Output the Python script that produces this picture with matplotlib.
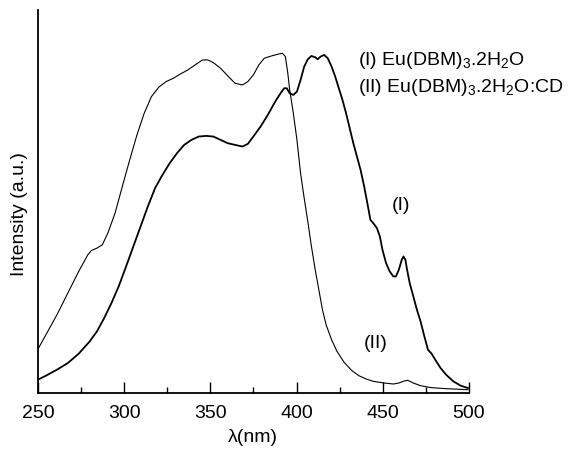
import matplotlib
matplotlib.use("Agg")
import matplotlib.pyplot as plt

plt.rcParams['font.family'] = ['Liberation Sans', 'DejaVu Sans']
plt.rcParams['mathtext.fontset'] = 'custom'
plt.rcParams['mathtext.rm'] = 'Liberation Sans'
plt.rcParams['mathtext.default'] = 'regular'

# Curve (II): Eu(DBM)3.2H2O:CD  (thin line)
wl_cd = [250, 254.6, 261.0, 267.3, 273.6, 278.9, 281.0, 284.2, 287.3, 290.5,
         294.7, 298.9, 303.2, 307.4, 311.6, 315.8, 320.0, 324.3, 328.5, 332.7,
         336.9, 341.1, 345.4, 348.5, 351.7, 355.9, 360.1, 364.3, 368.6, 371.7,
         374.9, 378.1, 381.2, 385.4, 389.7, 391.8, 393.5, 394.9, 396.0, 398.1,
         400.2, 402.3, 404.4, 406.5, 408.6, 410.8, 412.9, 415.0, 417.1, 420.3,
         423.4, 427.6, 431.9, 436.1, 440.3, 444.5, 450.8, 456.1, 459.3, 462.4,
         464.6, 467.7, 471.9, 478.3, 486.7, 499.4]
int_cd = [132, 175, 235, 300, 365, 415, 428, 435, 445, 480,
          540, 620, 700, 775, 840, 890, 918, 935, 945, 958,
          970, 985, 1000, 1000, 992, 975, 952, 930, 925, 935,
          955, 985, 1005, 1012, 1018, 1020, 1010, 960, 910, 840,
          760, 660, 585, 515, 440, 370, 310, 250, 205, 160,
          125, 92, 68, 52, 42, 35, 30, 27, 30, 36,
          38, 30, 22, 16, 13, 10]

# Curve (I): Eu(DBM)3.2H2O  (thicker line)
wl_pure = [250, 254.6, 261.0, 267.3, 273.6, 280.0, 284.2, 288.4, 292.6, 296.8,
           301.1, 305.3, 309.5, 313.7, 317.9, 322.2, 326.4, 330.6, 334.8, 339.0,
           343.2, 347.5, 351.7, 355.9, 360.1, 364.3, 368.6, 371.7, 374.9, 379.1,
           383.3, 387.6, 390.7, 392.8, 394.3, 396.0, 398.1, 400.2, 402.3, 404.4,
           406.5, 408.6, 410.8, 412.2, 413.9, 416.0, 418.1, 420.3, 422.4, 424.5,
           426.6, 428.7, 430.8, 432.9, 435.0, 437.1, 439.2, 441.4, 442.8, 444.5,
           446.6, 448.3, 449.8, 451.9, 454.0, 456.1, 457.6, 459.3, 461.0, 462.0,
           463.1, 464.1, 465.6, 467.7, 469.8, 471.9, 474.1, 476.2, 478.3, 480.4,
           483.5, 486.7, 490.9, 495.1, 499.4]
int_pure = [40, 52, 70, 90, 118, 155, 185, 225, 270, 320,
            380, 440, 500, 560, 615, 655, 690, 720, 745, 760,
            770, 772, 770, 760, 750, 745, 740, 748, 770, 800,
            835, 875, 900, 915, 915, 900, 895, 905, 940, 980,
            1002, 1012, 1008, 1002, 1010, 1015, 1005, 980, 950, 915,
            880, 840, 795, 750, 710, 670, 620, 560, 520, 510,
            495, 470, 430, 390, 365, 350, 350, 370, 400, 410,
            400, 370, 330, 290, 250, 215, 170, 130, 118, 100,
            75, 55, 35, 22, 15]

xticks = [250, 300, 350, 400, 450, 500]
minor_xticks = [275, 325, 375, 425, 475]

fig = plt.figure(figsize=(5.69, 4.49), dpi=100)
ax = fig.add_axes([38/569, 1-393/449, 431/569, 383/449])

ax.plot(wl_cd, int_cd, color='black', lw=0.8)
ax.plot(wl_pure, int_pure, color='black', lw=1.3)

ax.set_xlim(250, 500)
ax.set_ylim(0, 1150)
ax.set_xticks(xticks)
ax.set_xticks(minor_xticks, minor=True)
ax.set_yticks([])
ax.tick_params(axis='x', which='major', direction='in', length=8, width=1.0,
               labelsize=14, pad=9)
ax.tick_params(axis='x', which='minor', direction='in', length=4, width=1.0)
for s in ['top', 'right']:
    ax.spines[s].set_visible(False)
for s in ['left', 'bottom']:
    ax.spines[s].set_linewidth(1.3)

fig.text(253/569, 1-437/449, 'λ(nm)', fontsize=14, ha='center', va='center')
fig.text(20/569, 1-214/449, 'Intensity (a.u.)', fontsize=14, ha='center',
         va='center', rotation=90)

ax.text(460.6, 564, '(I)', fontsize=14, ha='center', va='center')
ax.text(446, 150, '(II)', fontsize=14, ha='center', va='center')

fig.text(358/569, 1-60/449, '(I) Eu(DBM)$_3$.2H$_2$O', fontsize=14,
         ha='left', va='center')
fig.text(358/569, 1-88/449, '(II) Eu(DBM)$_3$.2H$_2$O:CD', fontsize=14,
         ha='left', va='center')

fig.savefig('out.png', dpi=100)
